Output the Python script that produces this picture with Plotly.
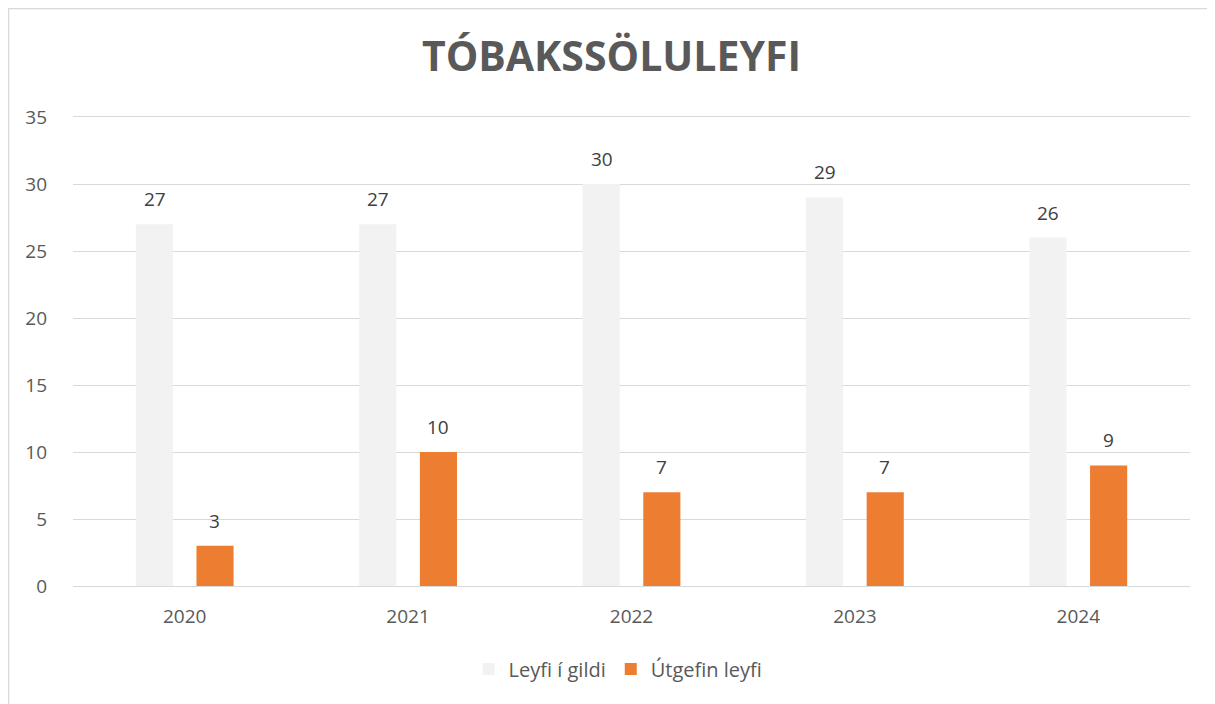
import plotly.graph_objects as go

years = ["2020", "2021", "2022", "2023", "2024"]
leyfi_i_gildi = [27, 27, 30, 29, 26]
utgefin_leyfi = [3, 10, 7, 7, 9]
y_ticks = [0, 5, 10, 15, 20, 25, 30, 35]

font_family = "Open Sans, Noto Sans, sans-serif"

fig = go.Figure()
fig.add_trace(go.Bar(
    name="Leyfi í gildi",
    x=years,
    y=leyfi_i_gildi,
    marker=dict(color="#F2F2F2", line=dict(width=0)),
    hovertemplate="%{x}: %{y}<extra></extra>",
))
fig.add_trace(go.Bar(
    name="Útgefin leyfi",
    x=years,
    y=utgefin_leyfi,
    marker=dict(color="#ED7D31", line=dict(width=0)),
    hovertemplate="%{x}: %{y}<extra></extra>",
))

# gildismerki ofan við súlurnar (x = númer flokks á flokkaás)
annotations = []
for shift, values in ((-30, leyfi_i_gildi), (30, utgefin_leyfi)):
    for i, v in enumerate(values):
        annotations.append(dict(
            x=i, y=v, text=str(v), showarrow=False,
            xshift=shift, yshift=25, yanchor="middle",
            font=dict(family=font_family, size=19, color="#404040"),
        ))

fig.update_layout(
    width=1207,
    height=696,
    paper_bgcolor="white",
    plot_bgcolor="white",
    barmode="group",
    bargap=0.457,
    bargroupgap=0.388,
    margin=dict(l=65, r=25, t=109, b=118, autoexpand=False),
    font=dict(family=font_family, size=18, color="#595959"),
    title=dict(
        text="<b>TÓBAKSSÖLULEYFI</b>",
        x=0.5,
        xanchor="center",
        y=1 - 49 / 696,
        yanchor="middle",
        font=dict(family=font_family, size=41, color="#595959"),
    ),
    legend=dict(
        orientation="h",
        x=0.488,
        xanchor="center",
        y=-0.177,
        yanchor="middle",
        font=dict(size=20, color="#595959"),
    ),
    xaxis=dict(
        type="category",
        showline=True,
        mirror=True,
        linecolor="#D9D9D9",
        linewidth=1,
        ticks="",
        tickfont=dict(size=19, color="#595959"),
        ticklabelstandoff=13,
    ),
    yaxis=dict(
        range=[0, 35],
        tickvals=y_ticks,
        showgrid=True,
        gridcolor="#D9D9D9",
        gridwidth=1,
        zeroline=False,
        ticks="",
        tickfont=dict(size=19, color="#595959"),
        ticklabelstandoff=25,
    ),
    annotations=annotations,
    shapes=[dict(
        type="rect",
        xref="paper",
        yref="paper",
        x0=-64.5 / 1117,
        x1=1.05,
        y0=-0.3,
        y1=1 + 108.5 / 469,
        line=dict(color="#D9D9D9", width=1.5),
        fillcolor="rgba(0,0,0,0)",
        layer="below",
    )],
)

fig.write_html("out.html")
